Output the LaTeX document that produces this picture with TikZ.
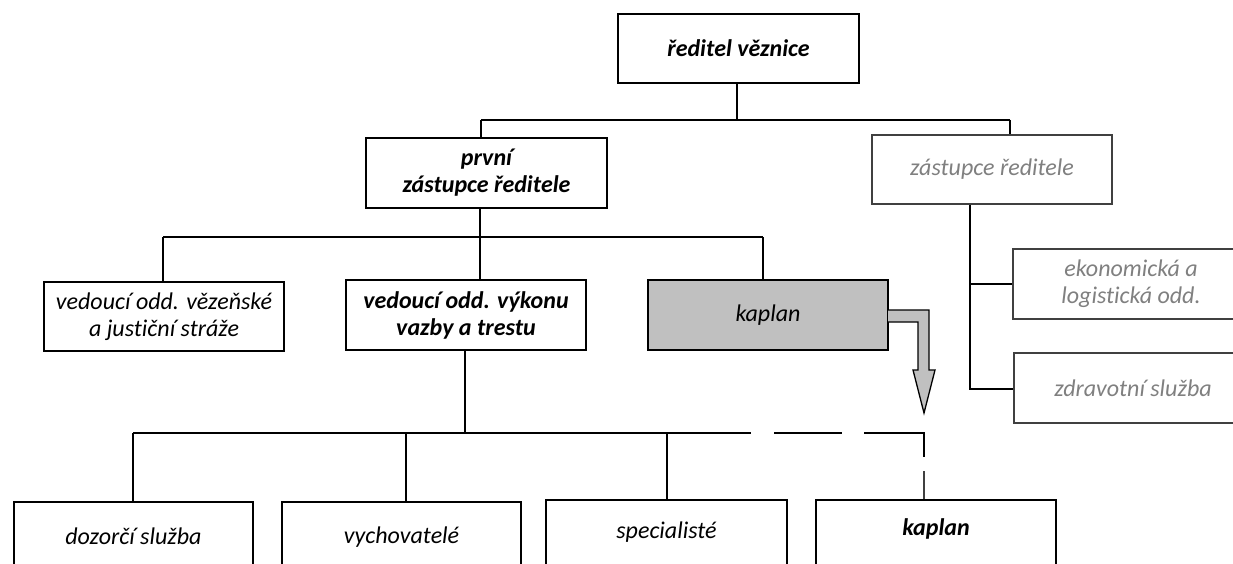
\documentclass[tikz,border=0pt]{standalone}
\usepackage{fontspec}
\setmainfont{Carlito}[Ligatures={NoCommon}]
\definecolor{boxgray}{HTML}{C0C0C0}
\definecolor{txtgray}{HTML}{808080}
\definecolor{edgegray}{HTML}{404040}
\begin{document}
\begin{tikzpicture}[x=1pt,y=-1pt,
  box/.style={draw=black, line width=1.6pt, fill=white, inner sep=0pt, align=center,
    minimum width=240pt, minimum height=70pt,
    font=\fontsize{24}{27}\selectfont\itshape, text=black},
  boldbox/.style={box, font=\fontsize{24}{27}\selectfont\bfseries\itshape},
  greybox/.style={box, draw=edgegray, text=txtgray},
  lowbox/.style={box, anchor=north, minimum height=90pt},
  lbl/.style={anchor=base, inner sep=0pt, font=\fontsize{24}{27}\selectfont\itshape},
  conn/.style={draw=black, line width=1.3pt}]
\useasboundingbox (0,0) rectangle (1233,564);

% nodes
\node[boldbox, minimum width=241pt, minimum height=69pt] (dir) at (738.5,48.5) {ředitel věznice};
\node[boldbox, minimum width=241pt] (prvni) at (486.5,173) {první\\zástupce ředitele};
\node[greybox, minimum height=69pt] (zast) at (992,169.5) {zástupce ředitele};
\node[box, line width=2.5pt, minimum height=69pt] (vez) at (164,316.5) {vedoucí odd. vězeňské\\a justiční stráže};
\node[boldbox] (vyk) at (466,315) {vedoucí odd. výkonu\\vazby a trestu};
\node[box, fill=boxgray] (kap1) at (768,315) {kaplan};
\node[greybox, minimum width=236pt] (eko) at (1131,284) {ekonomická a\\logistická odd.};
\node[greybox, minimum width=238pt] (zdr) at (1133,388) {zdravotní služba};

\node[lowbox, minimum width=239pt] (doz) at (133.5,501) {};
\node[lowbox, minimum width=239pt] (vych) at (401.5,501) {};
\node[lowbox, minimum width=241pt] (spec) at (666.5,499) {};
\node[lowbox, line width=1.8pt] (kap2) at (936,499) {};
\node[lbl] at ([yshift=-43pt]doz.north) {dozorčí služba};
\node[lbl] at ([yshift=-42pt]vych.north) {vychovatelé};
\node[lbl] at ([yshift=-39pt]spec.north) {specialisté};
\node[lbl, font=\fontsize{24}{27}\selectfont\bfseries\itshape] at ([yshift=-36pt]kap2.north) {kaplan};

% level 1
\coordinate (b1a) at (481,120);
\coordinate (b1b) at (1010,120);
\coordinate (b1c) at (737,120);
\draw[conn] (dir.south -| b1c) -- (b1c);
\draw[conn] (b1a) -- (b1b);
\draw[conn] (b1a) -- (b1a |- prvni.north);
\draw[conn] (b1b) -- (b1b |- zast.north);

% level 2
\coordinate (b2a) at (163,237);
\coordinate (b2b) at (763,237);
\coordinate (b2c) at (480,237);
\draw[conn] (b2c |- prvni.south) -- (b2c |- vyk.north);
\draw[conn] (b2a) -- (b2b);
\draw[conn] (b2a) -- (b2a |- vez.north);
\draw[conn] (b2b) -- (b2b |- kap1.north);

% level 3
\coordinate (b3c) at (465,433);
\coordinate (b3a) at (133,433);
\coordinate (b3s) at (751,433);
\coordinate (b3v) at (406,433);
\coordinate (b3p) at (667,433);
\draw[conn] (b3c |- vyk.south) -- (b3c);
\draw[conn] (b3a) -- (b3s);
\draw[conn] (b3a) -- (b3a |- doz.north);
\draw[conn] (b3v) -- (b3v |- vych.north);
\draw[conn] (b3p) -- (b3p |- spec.north);
\coordinate (d1a) at (774,433);
\coordinate (d1b) at (842,433);
\coordinate (d2a) at (864,433);
\coordinate (b3k) at (924,433);
\coordinate (d3) at (924,457);
\coordinate (d4) at (924,471);
\draw[conn] (d1a) -- (d1b);
\draw[conn] (d2a) -- (b3k) -- (d3);
\draw[conn, draw=edgegray] (d4) -- (d4 |- kap2.north);

% right branch
\coordinate (r1) at (970,284);
\coordinate (r2) at (970,389);
\draw[conn] (zast.south -| r1) -- (r2) -- (r2 -| zdr.west);
\draw[conn] (r1) -- (r1 -| eko.west);

% block arrow from kaplan
\draw[line width=1.3pt, fill=boxgray] (888,310) -- (929,310) -- (929,370) -- (935,370)
  -- (924,413) -- (913,370) -- (918,370) -- (918,322) -- (888,322);
\end{tikzpicture}
\end{document}
